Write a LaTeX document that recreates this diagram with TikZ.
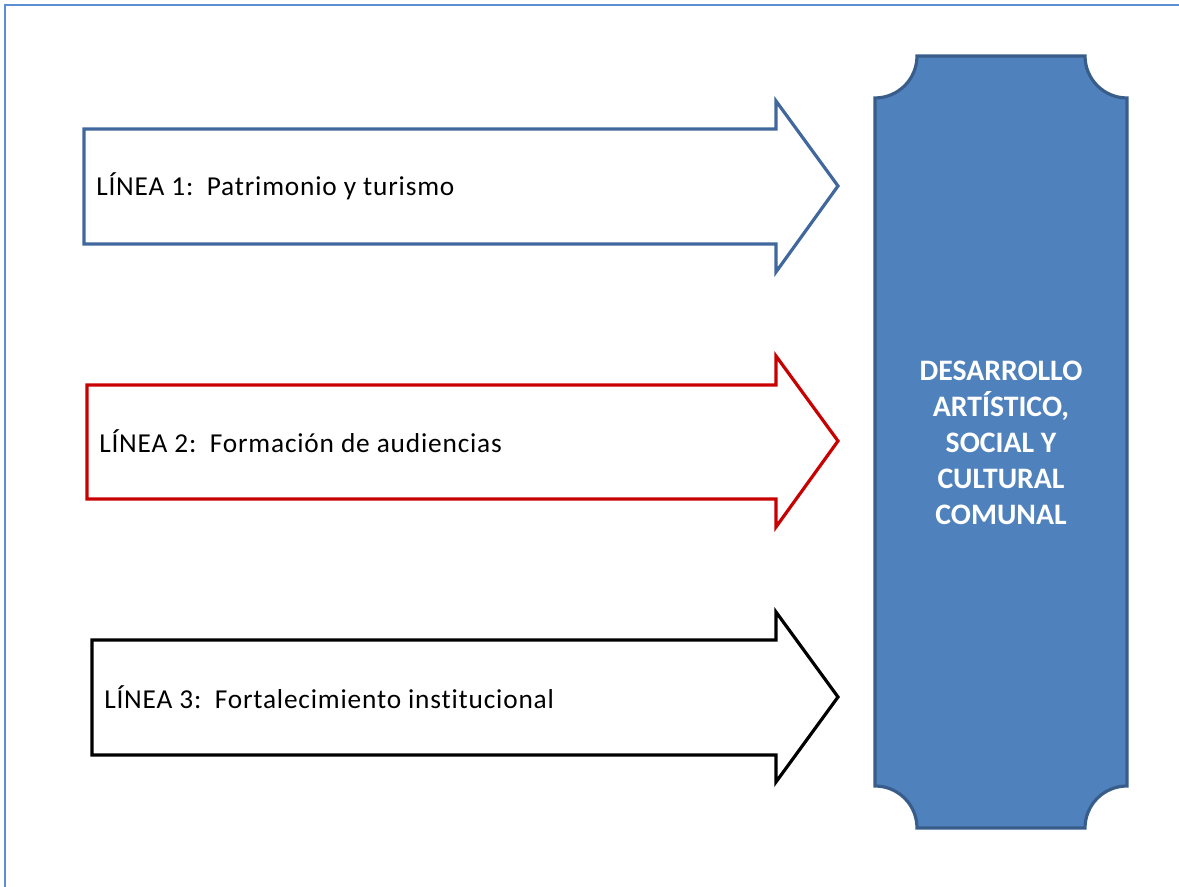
\documentclass[tikz,border=0pt]{standalone}
\usepackage{fontspec}
\setmainfont{Carlito}[RawFeature=-liga]
\usepackage{tikz}
\usetikzlibrary{positioning}

\definecolor{frameblue}{HTML}{5B8FD3}
\definecolor{lineblue}{HTML}{41689C}
\definecolor{linered}{HTML}{C80000}
\definecolor{boxfill}{HTML}{4F81BD}
\definecolor{boxline}{HTML}{385D8A}

\tikzset{
  bigarrow/.style = {line width = 2.4pt, fill = white, line join = miter},
  linelabel/.style = {anchor = west, inner sep = 0pt, font = \fontsize{20.5}{24}\selectfont\addfontfeature{LetterSpace=3}},
  goalbox/.style = {fill = boxfill, draw = boxline, line width = 2.4pt},
  goaltext/.style = {align = center, text = white, inner sep = 0pt, font = \fontsize{22.3}{27}\selectfont\bfseries}
}

\begin{document}
\begin{tikzpicture} [x = 0.75pt, y = 0.75pt]
    \useasboundingbox (0,0) rectangle (1179,887);
    % frame
    \draw [frameblue, line width = 2pt] (5,0)--(5,882)--(1179,882);
    % arrows
    \draw [bigarrow, draw = lineblue] (84,643)--(84,758)--(776,758)--(776,786)--(838,701)--(776,615)--(776,643)--cycle;
    \draw [bigarrow, draw = linered] (87,388)--(87,502)--(776,502)--(776,531)--(838,446)--(776,360)--(776,388)--cycle;
    \draw [bigarrow, draw = black] (92,132)--(92,247)--(776,247)--(776,275)--(838,190)--(776,105)--(776,132)--cycle;
    \node [linelabel] (linea1) at (96,701) {LÍNEA 1:\hspace{0.15em} Patrimonio y turismo};
    \node [linelabel] (linea2) at (99,446) {LÍNEA 2:\hspace{0.15em} Formación de audiencias};
    \node [linelabel] (linea3) at (104,190) {LÍNEA 3:\hspace{0.15em} Fortalecimiento institucional};
    % goal box
    \draw [goalbox] (875,101) arc (90:0:42) -- (1085,59) arc (180:90:42) -- (1127,789)
      arc (270:180:42) -- (917,831) arc (0:-90:42) -- cycle;
    \node [goaltext] (meta) at (1001,444) {DESARROLLO\\ARTÍSTICO,\\SOCIAL Y\\CULTURAL\\COMUNAL};
  \end{tikzpicture}
\end{document}
